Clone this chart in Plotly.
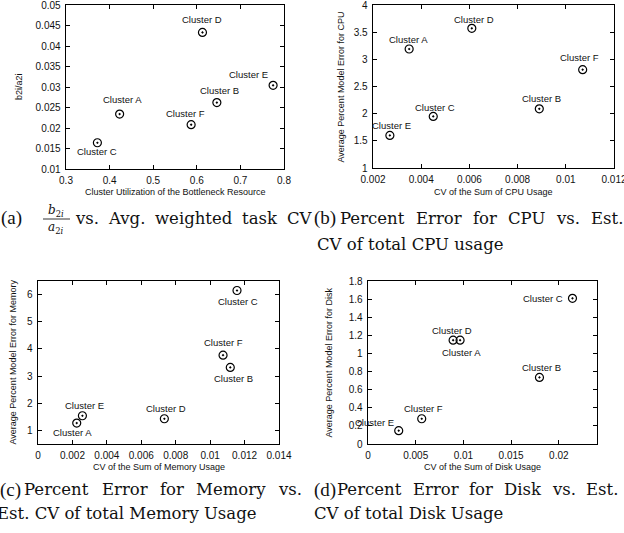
import plotly.graph_objects as go

W, H = 624, 533

# ---------------- data ----------------
names = ["Cluster A", "Cluster B", "Cluster C", "Cluster D", "Cluster E", "Cluster F"]

# (a) Cluster utilization vs b2i/a2i
a_x = [0.423, 0.646, 0.372, 0.613, 0.775, 0.587]
a_y = [0.0234, 0.0262, 0.0164, 0.0433, 0.0304, 0.0208]

# (b) CV of sum of CPU usage vs avg percent model error for CPU
b_x = [0.0035, 0.0089, 0.0045, 0.0061, 0.0027, 0.0107]
b_y = [3.19, 2.09, 1.95, 3.57, 1.60, 2.81]

# (c) CV of sum of memory usage vs avg percent model error for memory
c_x = [0.00225, 0.01117, 0.01156, 0.00734, 0.00258, 0.01075]
c_y = [1.27, 3.32, 6.15, 1.43, 1.54, 3.77]

# (d) CV of sum of disk usage vs avg percent model error for disk
d_x = [0.00965, 0.01797, 0.02143, 0.00892, 0.00322, 0.00563]
d_y = [1.146, 0.735, 1.609, 1.146, 0.147, 0.279]

# tick values / labels
a_xt = [0.3, 0.4, 0.5, 0.6, 0.7, 0.8]
a_xl = ["0.3", "0.4", "0.5", "0.6", "0.7", "0.8"]
a_yt = [0.01, 0.015, 0.02, 0.025, 0.03, 0.035, 0.04, 0.045, 0.05]
a_yl = ["0.01", "0.015", "0.02", "0.025", "0.03", "0.035", "0.04", "0.045", "0.05"]

b_xt = [0.002, 0.004, 0.006, 0.008, 0.01, 0.012]
b_xl = ["0.002", "0.004", "0.006", "0.008", "0.01", "0.012"]
b_yt = [1, 1.5, 2, 2.5, 3, 3.5, 4]
b_yl = ["1", "1.5", "2", "2.5", "3", "3.5", "4"]

c_xt = [0, 0.002, 0.004, 0.006, 0.008, 0.01, 0.012, 0.014]
c_xl = ["0", "0.002", "0.004", "0.006", "0.008", "0.01", "0.012", "0.014"]
c_yt = [1, 2, 3, 4, 5, 6]
c_yl = ["1", "2", "3", "4", "5", "6"]

d_xt = [0, 0.005, 0.01, 0.015, 0.02]
d_xl = ["0", "0.005", "0.01", "0.015", "0.02"]
d_yt = [0, 0.2, 0.4, 0.6, 0.8, 1, 1.2, 1.4, 1.6, 1.8]
d_yl = ["0", "0.2", "0.4", "0.6", "0.8", "1", "1.2", "1.4", "1.6", "1.8"]

# ---------------- style ----------------
def px(x):
    return x / W

def py(y):
    return 1 - y / H

def padded(lo, hi):
    e = (hi - lo) * 1e-6
    return [lo - e, hi + e]

SANS = "Liberation Sans, Arial, sans-serif"
SERIF = "DejaVu Serif, serif"
TXT = "#111111"

# label offsets (pixels, dx, dy-up) per panel, order A..F
a_off = [(3, 15), (3, 12), (0, -9), (0, 13), (-25, 11), (-6, 11)]
b_off = [(-1, 10), (2, 10), (2, 9), (2, 9), (2, 10), (-3, 12)]
c_off = [(-4, -9), (3, -11), (1, -11), (2, 10), (2, 10), (0, 13)]
d_off = [(1, -12), (2, 10), (-29, 0), (-1, 10), (-24, 8), (2, 10)]

panels = [
    dict(x=a_x, y=a_y, off=a_off, xr=(0.3, 0.8), yr=(0.01, 0.05), xt=a_xt, xl=a_xl, yt=a_yt, yl=a_yl,
         dom=(66, 284, 5, 169), xtitle="Cluster Utilization of the Bottleneck Resource", ytitle="b2i/a2i",
         xtpos=192, ytpos=19),
    dict(x=b_x, y=b_y, off=b_off, xr=(0.002, 0.012), yr=(1, 4), xt=b_xt, xl=b_xl, yt=b_yt, yl=b_yl,
         dom=(373, 614, 5, 168), xtitle="CV of the Sum of CPU Usage", ytitle="Average Percent Model Error for CPU",
         xtpos=192, ytpos=340),
    dict(x=c_x, y=c_y, off=c_off, xr=(0, 0.014), yr=(0.5, 6.5), xt=c_xt, xl=c_xl, yt=c_yt, yl=c_yl,
         dom=(38, 279, 281, 444), xtitle="CV of the Sum of Memory Usage", ytitle="Average Percent Model Error for Memory",
         xtpos=467, ytpos=12),
    dict(x=d_x, y=d_y, off=d_off, xr=(0, 0.024), yr=(0, 1.8), xt=d_xt, xl=d_xl, yt=d_yt, yl=d_yl,
         dom=(368, 597, 281, 444), xtitle="CV of the Sum of Disk Usage", ytitle="Average Percent Model Error for Disk",
         xtpos=467, ytpos=328),
]

fig = go.Figure()
annotations = []
layout = dict(
    template="none",
    width=W, height=H, margin=dict(l=0, r=0, t=0, b=0, pad=0), autosize=False,
    paper_bgcolor="white", plot_bgcolor="white", showlegend=False,
)

for i, p in enumerate(panels, start=1):
    xa = "x" if i == 1 else f"x{i}"
    ya = "y" if i == 1 else f"y{i}"
    fig.add_trace(go.Scatter(
        x=p["x"], y=p["y"], mode="markers", xaxis=xa, yaxis=ya,
        marker=dict(symbol="circle-open-dot", size=8, color="black", line=dict(width=1.2, color="black")),
        hoverinfo="skip",
    ))
    l, r, t, b = p["dom"]
    axis_common = dict(showgrid=False, zeroline=False, showline=True, linecolor="black", linewidth=1.4,
                       mirror="ticks", ticks="inside", ticklen=4, tickwidth=1, tickcolor="black",
                       tickfont=dict(family=SANS, size=10, color=TXT), tickmode="array", automargin=False,
                       ticklabeloverflow="allow", fixedrange=True)
    layout["xaxis" if i == 1 else f"xaxis{i}"] = dict(
        axis_common, domain=[px(l), px(r)], range=padded(*p["xr"]), tickvals=p["xt"], ticktext=p["xl"],
        anchor=ya, ticklabelstandoff=2)
    layout["yaxis" if i == 1 else f"yaxis{i}"] = dict(
        axis_common, domain=[py(b), py(t)], range=padded(*p["yr"]), tickvals=p["yt"], ticktext=p["yl"],
        anchor=xa, ticklabelstandoff=2)
    for nm, xv, yv, (dx, dy) in zip(names, p["x"], p["y"], p["off"]):
        annotations.append(dict(x=xv, y=yv, xref=xa, yref=ya, text=nm, showarrow=False,
                                xshift=dx, yshift=dy, xanchor="center", yanchor="middle",
                                font=dict(family=SANS, size=9.5, color=TXT)))
    annotations.append(dict(x=px((l + r) / 2), y=py(p["xtpos"]), xref="paper", yref="paper",
                            text=p["xtitle"], showarrow=False, xanchor="center", yanchor="middle",
                            font=dict(family=SANS, size=9, color=TXT)))
    annotations.append(dict(x=px(p["ytpos"]), y=py((t + b) / 2), xref="paper", yref="paper",
                            text=p["ytitle"], showarrow=False, textangle=-90, xanchor="center", yanchor="middle",
                            font=dict(family=SANS, size=9, color=TXT)))

# ---------------- captions ----------------
CW = {
    'a': .596, 'b': .640, 'c': .560, 'd': .640, 'e': .592, 'f': .370, 'g': .640, 'h': .644, 'i': .320,
    'j': .310, 'k': .606, 'l': .320, 'm': .948, 'n': .644, 'o': .602, 'p': .640, 'q': .640, 'r': .478,
    's': .513, 't': .402, 'u': .644, 'v': .565, 'w': .856, 'x': .564, 'y': .565, 'z': .523,
    'A': .722, 'B': .735, 'C': .720, 'D': .802, 'E': .729, 'F': .693, 'G': .799, 'H': .872, 'I': .395,
    'M': 1.024, 'P': .673, 'S': .685, 'T': .667, 'U': .843, 'V': .722, '.': .318,
}
CAP_SIZE = 16.5

def wwidth(word, size):
    return sum(CW.get(ch, .6) for ch in word) * size

def cap(x, y, text, size=CAP_SIZE, anchor="left", family=SERIF):
    annotations.append(dict(x=px(x), y=py(y), xref="paper", yref="paper", text=text, showarrow=False,
                            xanchor=anchor, yanchor="middle", borderpad=0,
                            font=dict(family=family, size=size, color=TXT)))

def justified(x0, x1, y, text, size=CAP_SIZE):
    words = text.split(" ")
    widths = [wwidth(w, size) for w in words]
    gap = (x1 - x0 - sum(widths)) / (len(words) - 1)
    x = x0
    for w, wd in zip(words, widths):
        cap(x, y, w, size)
        x += wd + gap

LAB = "Liberation Serif, serif"
cap(0, 218, "(a)", size=19, family=LAB)
cap(56, 211, "<i>b</i><sub>2<i>i</i></sub>", size=12, anchor="center")
cap(56, 228, "<i>a</i><sub>2<i>i</i></sub>", size=12, anchor="center")
justified(74, 310, 218, "vs. Avg. weighted task CV")
cap(313, 218, "(b)", size=19, family=LAB)
justified(339, 622, 218, "Percent Error for CPU vs. Est.")
cap(316, 244, "CV of total CPU usage")

cap(-1, 490, "(c)", size=19, family=LAB)
justified(23, 300, 490, "Percent Error for Memory vs.")
cap(-4, 513, "Est. CV of total Memory Usage")
cap(313, 490, "(d)", size=19, family=LAB)
justified(336, 617, 490, "Percent Error for Disk vs. Est.")
cap(313, 513, "CV of total Disk Usage")

layout["annotations"] = annotations
layout["shapes"] = [dict(type="line", xref="paper", yref="paper", x0=px(43), x1=px(70), y0=py(219), y1=py(219),
                         line=dict(color="black", width=0.8))]

fig.update_layout(**layout)
fig.write_html("out.html", config={"displayModeBar": False, "staticPlot": True},
               post_script="document.body.style.margin='0px';document.body.style.padding='0px';")
